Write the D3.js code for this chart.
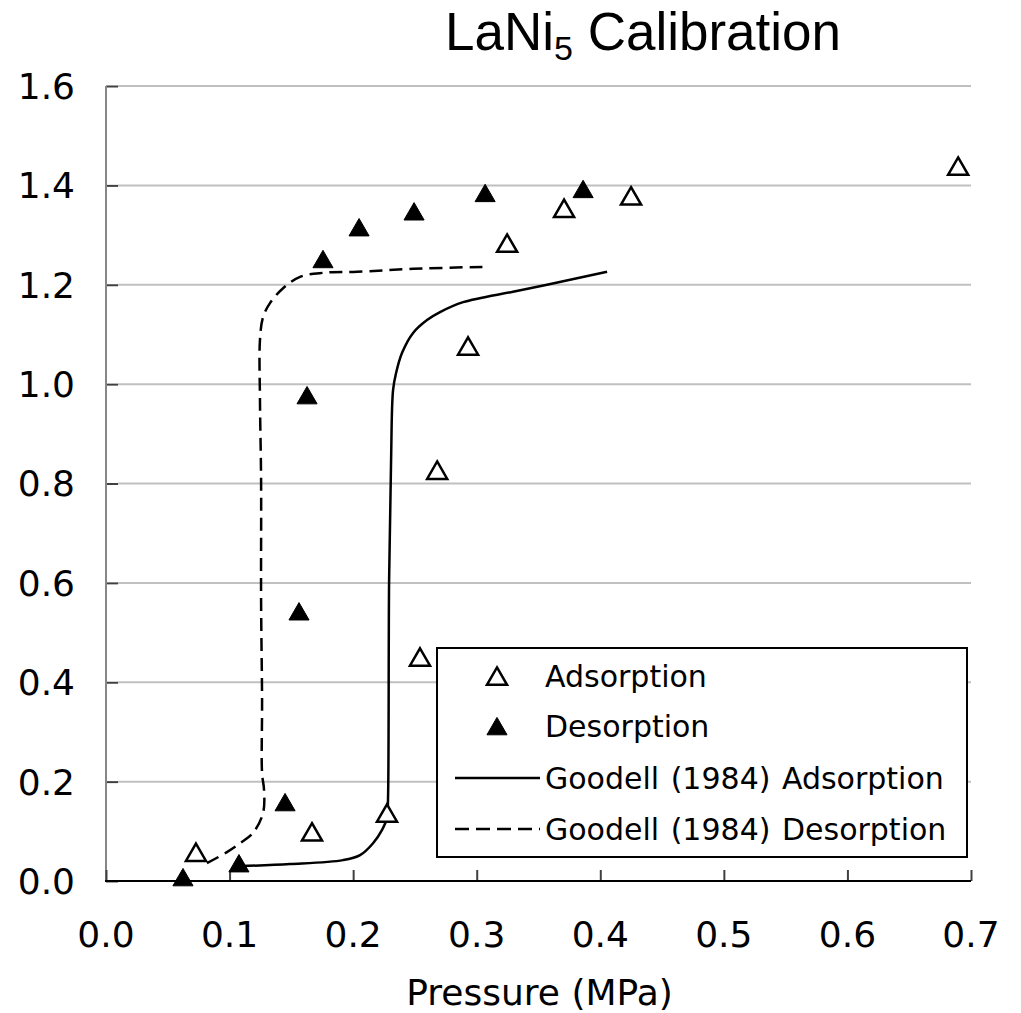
<!DOCTYPE html>
<html>
<head>
<meta charset="utf-8">
<script src="https://cdn.jsdelivr.net/npm/d3@7"></script>
<style>
  body { margin: 0; background: #fff; }
  svg { display: block; }
</style>
</head>
<body>
<div id="plotarea"></div>
<script>
// measured points (pressure MPa, H/M)
var adsX = [0.0728, 0.1667, 0.2274, 0.2541, 0.268, 0.293, 0.3246, 0.3707, 0.4249, 0.6896];
var adsY = [0.058, 0.099, 0.137, 0.451, 0.827, 1.077, 1.284, 1.354, 1.379, 1.439];
var desX = [0.0623, 0.1076, 0.1449, 0.1562, 0.1627, 0.1756, 0.2048, 0.2493, 0.3068, 0.3861];
var desY = [0.008, 0.036, 0.159, 0.543, 0.978, 1.252, 1.316, 1.348, 1.385, 1.393];

// Goodell (1984) curves
var goodAdsX = [0.1085, 0.1489, 0.1918, 0.2056, 0.2161, 0.2234, 0.2274, 0.2282, 0.2291, 0.2307, 0.2323, 0.2347, 0.2396, 0.2485, 0.2598, 0.2703, 0.289, 0.3294, 0.3569, 0.4055];
var goodAdsY = [0.030, 0.034, 0.042, 0.052, 0.076, 0.103, 0.127, 0.163, 0.606, 0.847, 0.988, 1.022, 1.063, 1.103, 1.129, 1.145, 1.165, 1.186, 1.200, 1.226];
var goodDesX = [0.0817, 0.0979, 0.1085, 0.119, 0.1271, 0.1279, 0.1263, 0.1263, 0.1255, 0.1255, 0.1246, 0.1246, 0.1271, 0.1327, 0.1433, 0.157, 0.1756, 0.2032, 0.2485, 0.3051];
var goodDesY = [0.036, 0.058, 0.076, 0.097, 0.137, 0.183, 0.217, 0.364, 0.566, 0.807, 0.968, 1.089, 1.135, 1.163, 1.193, 1.216, 1.224, 1.226, 1.232, 1.236];

var xTicks = [0, 0.1, 0.2, 0.3, 0.4, 0.5, 0.6, 0.7];
var yTicks = [0, 0.2, 0.4, 0.6, 0.8, 1.0, 1.2, 1.4, 1.6];
var legendLabels = ["Adsorption", "Desorption", "Goodell (1984) Adsorption", "Goodell (1984) Desorption"];

function drawChart() {
    var width = 1021, height = 1013;
    var plotLeft = 106, plotRight = 971, plotTop = 86, plotBottom = 881;
    var tickFont = "'DejaVu Sans', Verdana, sans-serif";

    var x = d3.scaleLinear().domain([0, 0.7]).range([plotLeft, plotRight]);
    var y = d3.scaleLinear().domain([0, 1.6]).range([plotBottom, plotTop]);

    var svg = d3.select("#plotarea").append("svg")
        .attr("width", width)
        .attr("height", height);

    // gridlines
    svg.append("g").selectAll("line")
        .data(yTicks.slice(1))
        .enter().append("line")
        .attr("x1", plotLeft + 12).attr("x2", plotRight)
        .attr("y1", function(d){ return y(d); })
        .attr("y2", function(d){ return y(d); })
        .attr("stroke", "#c0c0c0")
        .attr("stroke-width", 2);

    // y axis
    var yAxis = d3.axisRight(y).tickValues(yTicks).tickSize(12).tickFormat("");
    var gy = svg.append("g")
        .attr("transform", "translate(" + plotLeft + ",0)")
        .call(yAxis);
    gy.select(".domain").remove();
    gy.selectAll(".tick line").attr("stroke", "#404040").attr("stroke-width", 2);
    svg.append("line")
        .attr("x1", plotLeft).attr("x2", plotLeft)
        .attr("y1", plotTop).attr("y2", plotBottom)
        .attr("stroke", "#868686").attr("stroke-width", 2);

    svg.append("g").selectAll("text")
        .data(yTicks)
        .enter().append("text")
        .attr("x", 75)
        .attr("y", function(d){ return y(d); })
        .attr("dy", "0.36em")
        .attr("text-anchor", "end")
        .attr("font-family", tickFont)
        .attr("font-size", 36)
        .text(function(d){ return d3.format(".1f")(d); });

    // x axis
    var xAxis = d3.axisTop(x).tickValues(xTicks).tickSize(11).tickFormat("");
    var gx = svg.append("g")
        .attr("transform", "translate(0," + plotBottom + ")")
        .call(xAxis);
    gx.select(".domain").remove();
    gx.selectAll(".tick line").attr("stroke", "#404040").attr("stroke-width", 2);
    svg.append("line")
        .attr("x1", plotLeft - 1).attr("x2", plotRight)
        .attr("y1", plotBottom).attr("y2", plotBottom)
        .attr("stroke", "#000").attr("stroke-width", 2);

    svg.append("g").selectAll("text")
        .data(xTicks)
        .enter().append("text")
        .attr("x", function(d){ return x(d); })
        .attr("y", 947)
        .attr("text-anchor", "middle")
        .attr("font-family", tickFont)
        .attr("font-size", 36)
        .text(function(d){ return d3.format(".1f")(d); });

    svg.append("text")
        .attr("x", (plotLeft + plotRight) / 2 + 1)
        .attr("y", 1005)
        .attr("text-anchor", "middle")
        .attr("font-family", tickFont)
        .attr("font-size", 36)
        .text("Pressure (MPa)");

    // title
    var title = svg.append("text")
        .attr("x", 445)
        .attr("y", 50)
        .attr("font-family", "'Liberation Sans', Arial, sans-serif")
        .attr("font-size", 53);
    title.append("tspan").text("LaNi");
    title.append("tspan").attr("font-size", 34).attr("dy", 10).text("5");
    title.append("tspan").attr("dy", -10).text(" Calibration");

    // curves
    var line = d3.line()
        .x(function(d){ return x(d[0]); })
        .y(function(d){ return y(d[1]); })
        .curve(d3.curveCatmullRom.alpha(0.5));

    svg.append("path")
        .datum(d3.zip(goodAdsX, goodAdsY))
        .attr("d", line)
        .attr("fill", "none")
        .attr("stroke", "#000")
        .attr("stroke-width", 2.5);

    svg.append("path")
        .datum(d3.zip(goodDesX, goodDesY))
        .attr("d", line)
        .attr("fill", "none")
        .attr("stroke", "#000")
        .attr("stroke-width", 2.5)
        .attr("stroke-dasharray", "13,7");

    // markers
    var tri = d3.symbol().type(d3.symbolTriangle).size(175);
    var triOff = 3;

    svg.append("g").selectAll("path")
        .data(d3.zip(adsX, adsY))
        .enter().append("path")
        .attr("d", tri)
        .attr("transform", function(d){ return "translate(" + x(d[0]) + "," + (y(d[1]) + triOff) + ")"; })
        .attr("fill", "#fff")
        .attr("stroke", "#000")
        .attr("stroke-width", 2.5);

    svg.append("g").selectAll("path")
        .data(d3.zip(desX, desY))
        .enter().append("path")
        .attr("d", tri)
        .attr("transform", function(d){ return "translate(" + x(d[0]) + "," + (y(d[1]) + triOff) + ")"; })
        .attr("fill", "#000")
        .attr("stroke", "#000")
        .attr("stroke-width", 1);

    // legend
    var lg = svg.append("g");
    lg.append("rect")
        .attr("x", 437).attr("y", 648)
        .attr("width", 530).attr("height", 209)
        .attr("fill", "#fff")
        .attr("stroke", "#000")
        .attr("stroke-width", 2);

    var rowY = [676, 726, 778, 829];
    lg.append("path").attr("d", tri)
        .attr("transform", "translate(497," + (rowY[0] + triOff) + ")")
        .attr("fill", "#fff").attr("stroke", "#000").attr("stroke-width", 2.5);
    lg.append("path").attr("d", tri)
        .attr("transform", "translate(497," + (rowY[1] + triOff) + ")")
        .attr("fill", "#000").attr("stroke", "#000").attr("stroke-width", 1);
    lg.append("line")
        .attr("x1", 455).attr("x2", 540)
        .attr("y1", rowY[2]).attr("y2", rowY[2])
        .attr("stroke", "#000").attr("stroke-width", 2.5);
    lg.append("line")
        .attr("x1", 455).attr("x2", 540)
        .attr("y1", rowY[3]).attr("y2", rowY[3])
        .attr("stroke", "#000").attr("stroke-width", 2.5)
        .attr("stroke-dasharray", "14,7");

    lg.selectAll("text")
        .data(legendLabels)
        .enter().append("text")
        .attr("x", 545)
        .attr("y", function(d, i){ return rowY[i]; })
        .attr("dy", "0.36em")
        .attr("font-family", tickFont)
        .attr("font-size", 30)
        .attr("word-spacing", 2)
        .text(function(d){ return d; });
}

drawChart();
</script>
</body>
</html>
